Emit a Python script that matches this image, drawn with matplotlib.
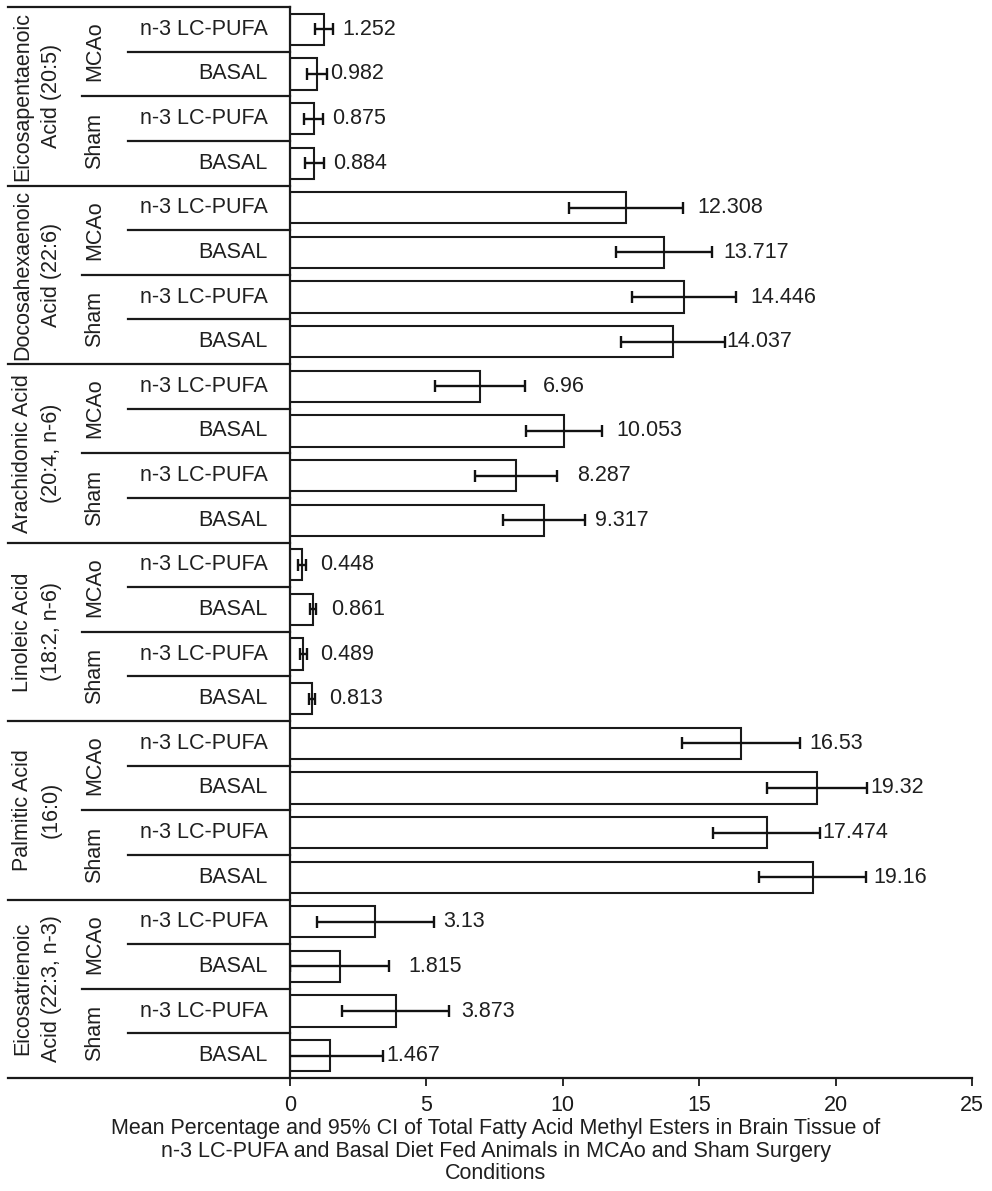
import matplotlib
matplotlib.use("Agg")
import matplotlib.pyplot as plt
import matplotlib.transforms as mtrans

plt.rcParams['font.family'] = ['Liberation Sans', 'DejaVu Sans']

# ---- data ----
fatty_acids = ["Eicosapentaenoic\nAcid (20:5)", "Docosahexaenoic\nAcid (22:6)",
               "Arachidonic Acid\n(20:4, n-6)", "Linoleic Acid\n(18:2, n-6)",
               "Palmitic Acid\n(16:0)", "Eicosatrienoic\nAcid (22:3, n-3)"]
surgeries = ["MCAo", "Sham"]
diets = ["n-3 LC-PUFA", "BASAL"]

means = [1.252, 0.982, 0.875, 0.884,
         12.308, 13.717, 14.446, 14.037,
         6.96, 10.053, 8.287, 9.317,
         0.448, 0.861, 0.489, 0.813,
         16.53, 19.32, 17.474, 19.16,
         3.13, 1.815, 3.873, 1.467]
ci_half = [0.33, 0.36, 0.35, 0.35,
           2.09, 1.75, 1.90, 1.90,
           1.65, 1.40, 1.50, 1.50,
           0.14, 0.11, 0.12, 0.12,
           2.15, 1.83, 1.97, 1.96,
           2.15, 1.82, 1.97, 1.95]
# gap (px) between error bar end and value label, as in the original
label_gap_px = [9, 4, 9, 9, 15, 11, 14, 2, 18, 14, 20, 10,
                14, 15, 14, 14, 10, 3, 2, 7, 9, 19, 12, 3]

xticks = [0, 5, 10, 15, 20, 25]
xlabel = ("Mean Percentage and 95% CI of Total Fatty Acid Methyl Esters in Brain Tissue of\n"
          "n-3 LC-PUFA and Basal Diet Fed Animals in MCAo and Sham Surgery\n"
          "Conditions")

# ---- figure ----
W, H = 992, 1191
fig = plt.figure(figsize=(W / 100, H / 100), dpi=100)
ax_left, ax_right, ax_top, ax_bot = 290, 972, 7, 1078
ax = fig.add_axes([ax_left / W, 1 - ax_bot / H, (ax_right - ax_left) / W, (ax_bot - ax_top) / H])

FS = 15.5
TXT = '#1f1f1f'
n = len(means)
ypos = list(range(n))
ax.barh(ypos, means, height=0.7, color='white', edgecolor='#1a1a1a', linewidth=1.5, zorder=2)
ax.errorbar(means, ypos, xerr=ci_half, fmt='none', ecolor='#111111', elinewidth=1.7,
            capsize=4.2, capthick=1.7, zorder=3)

for i, (m, e, g) in enumerate(zip(means, ci_half, label_gap_px)):
    ax.annotate(f"{m:g}", xy=(m + e, i), xytext=(g * 0.72, 0), textcoords='offset points',
                ha='left', va='center', fontsize=FS, color=TXT, zorder=4)

ax.set_xlim(0, 25)
ax.set_ylim(n - 0.5, -0.5)
ax.set_xticks(xticks)
ax.set_xticklabels([str(t) for t in xticks], fontsize=FS, color=TXT)
ax.tick_params(axis='x', direction='out', length=6, width=1.3, pad=6, colors='#1a1a1a')
ax.tick_params(axis='y', length=0, labelleft=False)
ax.set_yticks([])
for s in ['top', 'right']:
    ax.spines[s].set_visible(False)
for s in ['left', 'bottom']:
    ax.spines[s].set_linewidth(1.6)
    ax.spines[s].set_color('#1a1a1a')

# ---- multi-level category axis ----
tr = mtrans.blended_transform_factory(ax.transAxes, ax.transData)
def px2ax(px):
    return (px - ax_left) / (ax_right - ax_left)

x_grp, x_sur, x_diet = px2ax(8), px2ax(82), px2ax(128)
lw_sep = 1.6
per_grp = len(surgeries) * len(diets)
for gi, ga in enumerate(fatty_acids):
    y0 = gi * per_grp - 0.5
    ax.plot([x_grp, 0], [y0, y0], transform=tr, clip_on=False, color='#1a1a1a', lw=lw_sep)
    ax.text(px2ax(37), y0 + per_grp / 2, ga, transform=tr, rotation=90, ha='center',
            va='center', fontsize=FS, color=TXT, linespacing=1.45, multialignment='center')
    for si, su in enumerate(surgeries):
        ys = y0 + si * len(diets)
        if si > 0:
            ax.plot([x_sur, 0], [ys, ys], transform=tr, clip_on=False, color='#1a1a1a', lw=lw_sep)
        ax.text(px2ax(95), ys + len(diets) / 2, su, transform=tr, rotation=90, ha='center',
                va='center', fontsize=FS, color=TXT)
        for di, d in enumerate(diets):
            yd = ys + di
            if di > 0:
                ax.plot([x_diet, 0], [yd, yd], transform=tr, clip_on=False, color='#1a1a1a', lw=lw_sep)
            ax.text(px2ax(268), yd + 0.5, d, transform=tr, ha='right', va='center',
                    fontsize=FS, color=TXT)
yb = n - 0.5
ax.plot([x_grp, 0], [yb, yb], transform=tr, clip_on=False, color='#1a1a1a', lw=lw_sep)

fig.text(0.5, 1 - 1151 / H, xlabel, ha='center', va='center', fontsize=FS, color=TXT,
         linespacing=1.08)

fig.savefig("out.png", dpi=100)
